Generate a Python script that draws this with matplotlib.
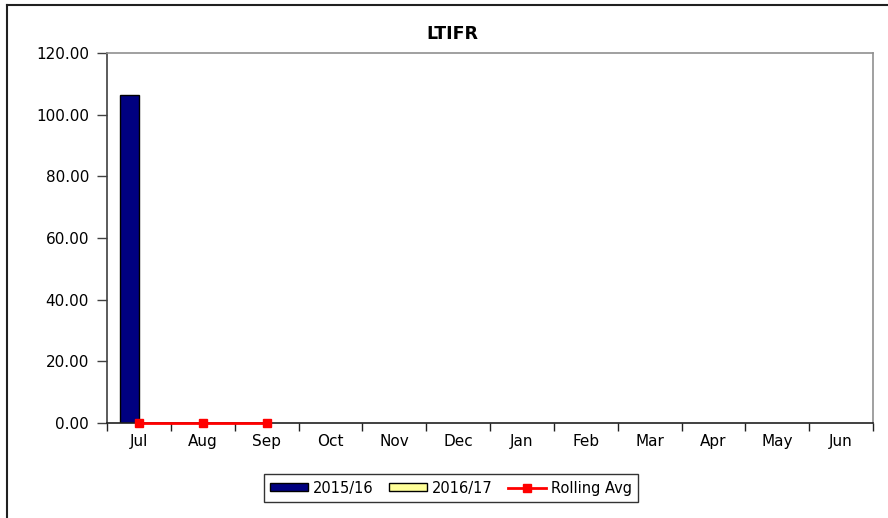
import numpy as np
import matplotlib
matplotlib.use("Agg")
import matplotlib.pyplot as plt
from matplotlib.lines import Line2D
from matplotlib.patches import Patch

plt.rcParams['font.family'] = ['DejaVu Sans']

months = ["Jul", "Aug", "Sep", "Oct", "Nov", "Dec", "Jan", "Feb", "Mar", "Apr", "May", "Jun"]
fy_2015_16 = [106.4, None, None, None, None, None, None, None, None, None, None, None]
fy_2016_17 = [None, None, None, None, None, None, None, None, None, None, None, None]
rolling_avg = [0.0, 0.0, 0.0, None, None, None, None, None, None, None, None, None]
yticks = [0, 20, 40, 60, 80, 100, 120]

def arr(v):
    return np.array([np.nan if x is None else x for x in v], dtype=float)

fig = plt.figure(figsize=(8.88, 5.18), dpi=100)
ax = fig.add_axes([107/888, 1-423/518, (873-107)/888, (423-53)/518])

x = np.arange(len(months))
w = 0.3
ax.bar(x - w/2, arr(fy_2015_16), width=w, color="#000080", edgecolor="black", linewidth=1.0, zorder=2)
ax.bar(x + w/2, arr(fy_2016_17), width=w, color="#FFFF99", edgecolor="black", linewidth=1.0, zorder=2)
ax.plot(x, arr(rolling_avg), color="#FF0000", linewidth=2, marker="s", markersize=6,
        markeredgecolor="#FF0000", zorder=3, clip_on=False)

ax.set_xlim(-0.5, len(months) - 0.5)
ax.set_ylim(0, 120)
ax.set_yticks(yticks)
ax.set_yticklabels([f"{v:.2f}" for v in yticks], fontsize=11)
ax.set_xticks(np.arange(-0.5, len(months)), minor=False)
ax.set_xticklabels([])
ax.set_xticks(x, minor=True)
ax.set_xticklabels(months, minor=True, fontsize=11)
ax.tick_params(axis="x", which="major", direction="out", length=6, width=1, color="#202020")
ax.tick_params(axis="x", which="minor", length=0, pad=8)
ax.tick_params(axis="y", direction="out", length=7, width=1, color="#404040", pad=6)

ax.spines["top"].set_color("#909090")
ax.spines["right"].set_color("#909090")
ax.spines["left"].set_color("#404040")
ax.spines["bottom"].set_color("#202020")
for s in ax.spines.values():
    s.set_linewidth(1.2)

fig.text(452/888, 1-34/518, "LTIFR", ha="center", va="center", fontsize=12.5, fontweight="bold")

handles = [
    Patch(facecolor="#000080", edgecolor="black", linewidth=1.0),
    Patch(facecolor="#FFFF99", edgecolor="black", linewidth=1.0),
    Line2D([0], [0], color="#FF0000", linewidth=2, marker="s", markersize=6),
]
leg = fig.legend(handles, ["2015/16", "2016/17", "Rolling Avg"], loc="center",
                 bbox_to_anchor=(451/888, 1-488/518), ncol=3, fontsize=10.5,
                 frameon=True, fancybox=False, edgecolor="black",
                 handlelength=2.6, handleheight=0.45, handletextpad=0.3,
                 columnspacing=1.1, borderpad=0.45)
leg.get_frame().set_linewidth(1.0)

# outer chart border
fig.add_artist(Line2D([7/888, 7/888], [0, 1-5/518], transform=fig.transFigure, color="#202020", linewidth=1.5))
fig.add_artist(Line2D([7/888, 1], [1-5/518, 1-5/518], transform=fig.transFigure, color="#202020", linewidth=1.5))

fig.savefig("out.png", dpi=100)
